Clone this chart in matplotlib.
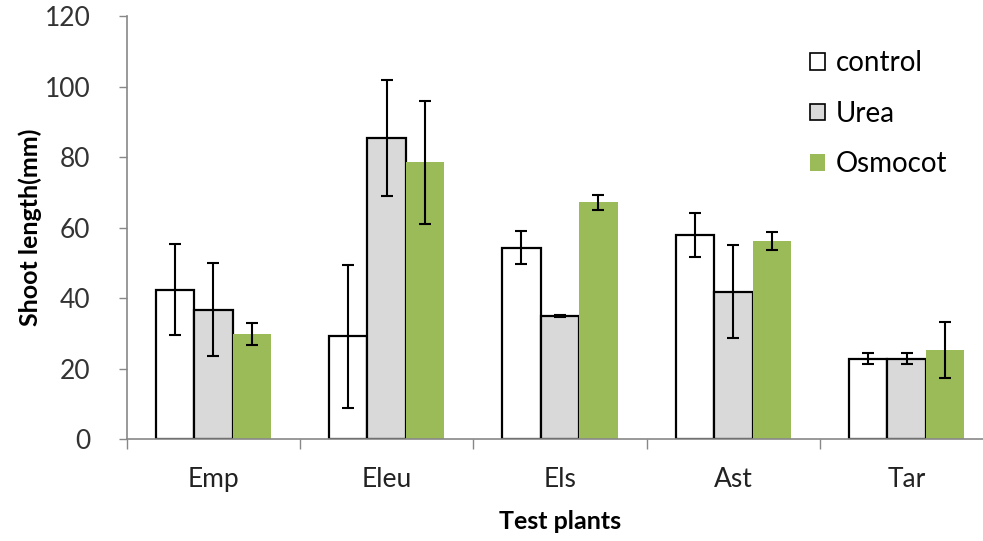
import matplotlib
matplotlib.use("Agg")
import matplotlib.pyplot as plt
import numpy as np
from matplotlib.patches import Patch

plt.rcParams['font.family'] = ['Lato', 'DejaVu Sans']

categories = ["Emp", "Eleu", "Els", "Ast", "Tar"]
series_names = ["control", "Urea", "Osmocot"]
control = [42.4, 29.1, 54.3, 57.8, 22.8]
control_err = [13.0, 20.2, 4.6, 6.3, 1.5]
urea = [36.7, 85.3, 34.8, 41.8, 22.8]
urea_err = [13.2, 16.5, 0.3, 13.1, 1.5]
osmocot = [29.9, 78.5, 67.1, 56.2, 25.3]
osmocot_err = [3.1, 17.5, 2.0, 2.6, 8.0]
yticks = [0, 20, 40, 60, 80, 100, 120]

fig = plt.figure(figsize=(9.83, 5.41), dpi=100)
ax = fig.add_axes([0.1289, 0.1885, 0.8815, 0.7819])

x = np.arange(len(categories))
w = 0.222
colors = ["white", "#D9D9D9", "#9BBB59"]
edges = ["black", "black", "none"]
vals = [control, urea, osmocot]
errs = [control_err, urea_err, osmocot_err]
for i in range(3):
    pos = x + (i - 1) * w
    ax.bar(pos, vals[i], width=w, color=colors[i], edgecolor=edges[i],
           linewidth=1.6 if edges[i] != "none" else 0, zorder=2)
    ax.errorbar(pos, vals[i], yerr=errs[i], fmt='none', ecolor='black',
                elinewidth=1.5, capsize=4.5, capthick=1.5, zorder=3)

ax.set_xlim(-0.5, len(categories) - 0.5)
ax.set_ylim(0, 120)
ax.set_yticks(yticks)
ax.set_yticklabels([str(t) for t in yticks], fontsize=19, color='#333333')
ax.set_xticks(x)
ax.set_xticklabels(categories, fontsize=19, color='#222222')
ax.set_xticks(np.arange(len(categories) + 1) - 0.5, minor=True)
ax.tick_params(axis='x', which='major', length=0, pad=20)
ax.tick_params(axis='x', which='minor', length=7, width=1, color='#888888', direction='out')
ax.tick_params(axis='y', length=6, width=1, color='#888888', direction='out', pad=20)

for s in ['top', 'right']:
    ax.spines[s].set_visible(False)
for s in ['left', 'bottom']:
    ax.spines[s].set_color('#888888')
    ax.spines[s].set_linewidth(1.2)

ax.set_ylabel("Shoot length(mm)", fontsize=18, fontweight='bold', labelpad=2)
ax.set_xlabel("Test plants", fontsize=18, fontweight='bold', labelpad=13)

handles = [Patch(facecolor=colors[i], edgecolor=edges[i], linewidth=1.2)
           for i in range(3)]
leg = ax.legend(handles, series_names, loc='upper left',
                bbox_to_anchor=(0.788, 0.919), frameon=False, fontsize=20,
                handlelength=0.55, handleheight=0.55, handletextpad=0.4,
                labelspacing=0.88, borderaxespad=0, borderpad=0)

fig.savefig("out.png", dpi=100)
